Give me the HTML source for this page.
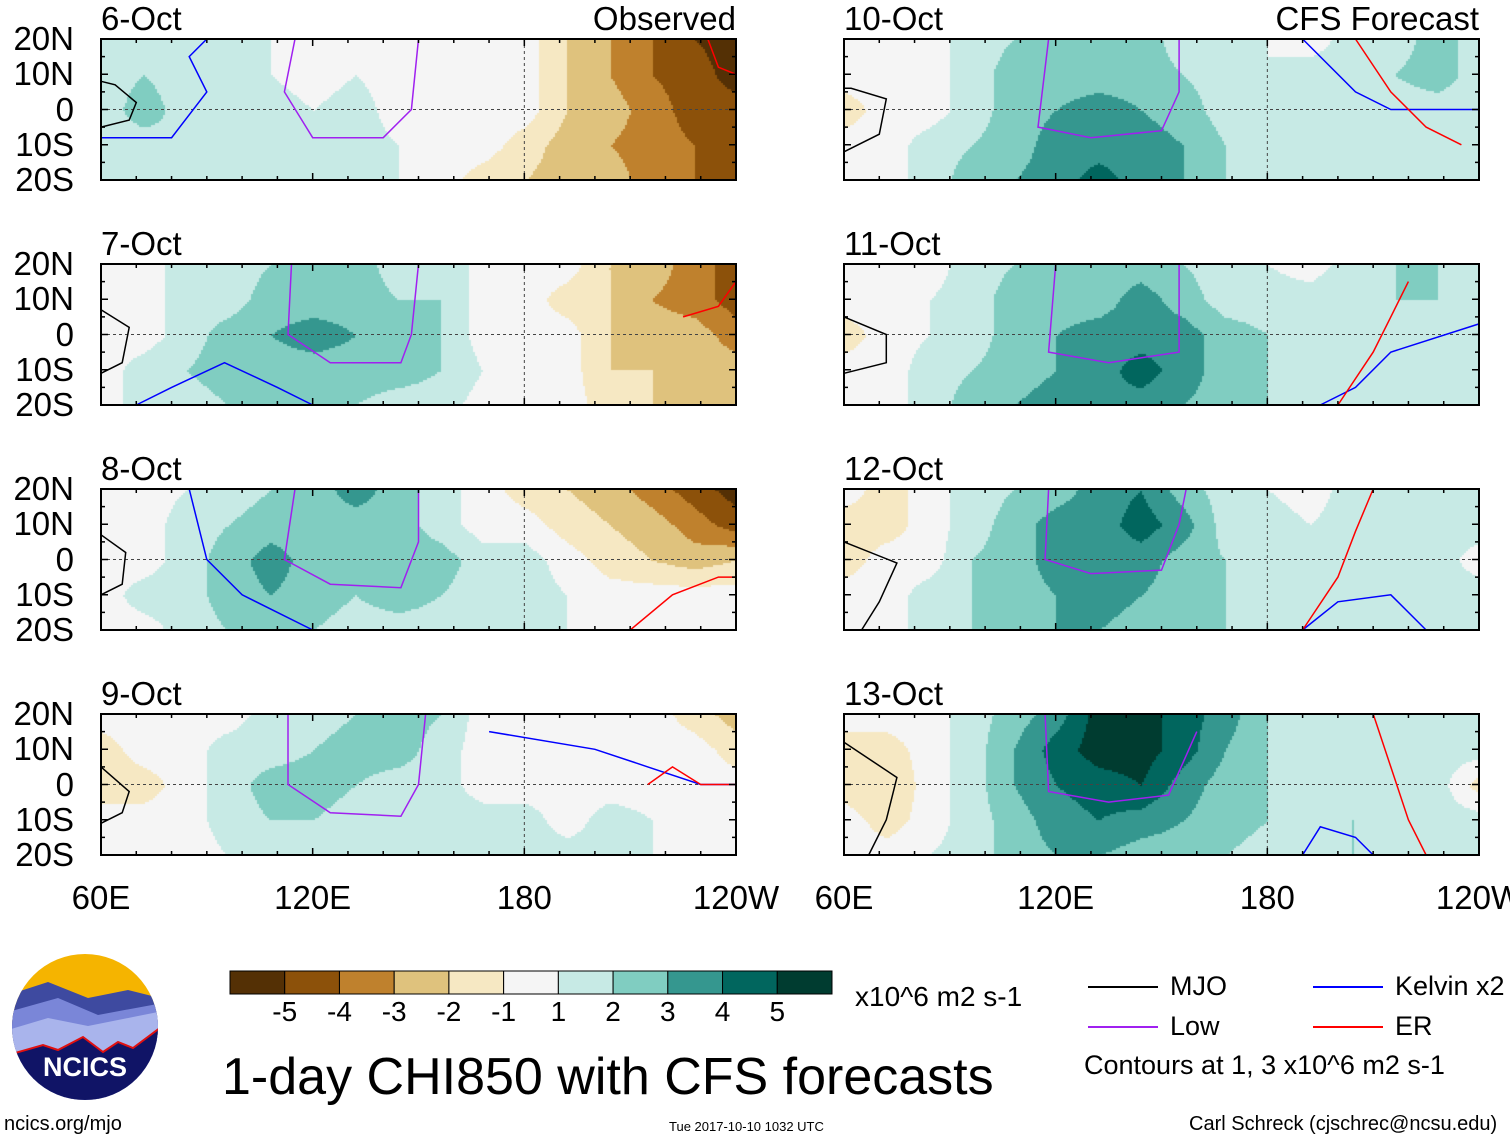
<!DOCTYPE html>
<html><head><meta charset="utf-8">
<style>
body{margin:0;background:#fff;width:1510px;height:1142px;overflow:hidden;position:relative;font-family:"Liberation Sans",sans-serif;}
.t{position:absolute;white-space:nowrap;color:#000;line-height:1;}
canvas{position:absolute;}
svg{position:absolute;left:0;top:0;}
</style></head>
<body>
<div id="root"></div>
<svg id="ov" width="1510" height="1142"></svg>
<script>
// ---- data ----
const panelDates = ["6-Oct","7-Oct","8-Oct","9-Oct","10-Oct","11-Oct","12-Oct","13-Oct"];
const latTicks = ["20N","10N","0","10S","20S"];
const lonTicks = ["60E","120E","180","120W"];
const cbarLabels = ["-5","-4","-3","-2","-1","1","2","3","4","5"];
const cbarColors = ["#543005","#8c510a","#bf812d","#dfc27d","#f6e8c3","#f5f5f5","#c7eae5","#80cdc1","#35978f","#01665e","#003c30"];
// CHI850 anomaly grids (rows 20N..20S, cols 60E..240E)
const f6 = [[1,1,1,1,.5,0,0,0,0,0,0,-1.5,-2.5,-3.5,-4.5,-5],[1,1.5,1,1,.5,0,.5,0,0,0,0,-1.5,-2.5,-3.5,-4,-5],[1,2,1,1.5,1,.5,1,0,0,0,0,-1.5,-2,-3,-4,-4],[1,1,1.5,1,1,1,1,.5,0,0,-1,-2,-2.5,-3,-3.5,-4],[1,1,1,1,1.5,1.5,1,.5,0,-1,-1.5,-2,-2,-3,-3.5,-4]];
const f7 = [[0,0,1,1,1.5,2,2,1,1.5,0,0,0,-1.5,-2,-3,-4],[0,0,1,1,2,2,2,1.5,1.5,0,0,-1,-1.5,-2.5,-3,-4],[0,0,1,2,2.5,3,2.5,2,1.5,0,0,0,-1.5,-2,-2,-3],[0,1,1.5,2,2,2,2,2,1.5,.5,0,0,-1.5,-1.5,-2,-2],[0,1,1,1.5,1.5,1.5,1.5,1,1,0,0,0,-1,-1.5,-1.5,-2]];
const f8 = [[0,0,.5,1,1.5,2,3,2,1,0,-1,-1.5,-2,-3,-4,-5],[0,0,1,1.5,2,2,2,2,1,0,0,-1,-1.5,-2,-3,-4],[0,0,1,2,3,2,2,2,2,1,1,0,-1,-1.5,-2,-1.5],[0,1,1,2,2.5,2,1.5,2,1.5,1,1,.5,0,0,0,0],[0,0,1,1.5,2,1.5,1,1,1,.5,.5,.5,0,0,0,0]];
const f9 = [[0,0,0,0,1,1,1.5,2,1.5,0,0,0,0,0,-1,-2],[-1,0,0,1,1,1.5,2,2,1,0,0,0,0,0,0,-1],[-1,-1,0,1,2,2,1.5,1,1,0,0,0,0,0,0,0],[0,0,0,1,1.5,1.5,1,1,1,1,1,0,1,.5,0,0],[0,0,0,.5,1,1,1,1,1,1,1,1,1,.5,0,0]];
const f10 = [[0,0,0,1,1.5,2,2,2,1,1,.5,0,1,1,2,1],[0,0,0,1,2,2,2,2,1.5,1,.5,1,1,1.5,2,1],[-1,0,0,1,2,2.5,3,2.5,2,1,1,1,1.5,1,1,1],[0,0,1,1.5,2,3,3,3,2.5,1.5,1,1,1,1,1,1],[0,0,1,2,2.5,3,4,3,2.5,1.5,1,1,1,1,1,1]];
const f11 = [[0,0,0,1,1.5,2,2,2,1.5,1,.5,0,1,1.5,1.5,1],[0,0,.5,1,2,2,2,3,2,1,1,1,1.5,1.5,1.5,1],[-1,0,.5,1,2,2.5,3,3,3,2,1.5,1,1,1,1,1],[0,0,1,1.5,2,2.5,3,4,3,2,1.5,1,1,1,1,1],[0,0,1,2,2.5,3,3.5,3,2.5,2,1.5,1,1,1,1,1]];
const f12 = [[0,-1,0,1,1.5,2,3,3.5,2,1,.5,0,1,1.5,1,1],[-1,-1,0,1,2,3,3,4,3,1,1,.5,1,1.5,1,1],[-1,0,0,1.5,2,3,3,3,2,1.5,1,1,1,1.5,1,0],[0,0,1,1.5,2,2.5,3,2.5,2,1.5,1,1,1,1,1,1],[0,0,1,1.5,2,2.5,2.5,2,1.5,1.5,1,1,1,1,1,1]];
const f13 = [[0,0,0,1,2,3,5,5,4,3,1.5,1,1,1.5,1,1],[-1,-1,0,1,2.5,4,5,5,4,2.5,1.5,1,1,1.5,1,1],[-1,-1.5,0,1,2.5,3.5,4,4.5,3,2,1.5,1,1,1,1,-1],[0,-1,0,1,2,3,3.5,3,2.5,2,1.5,1,1.5,1,1,1],[0,0,.5,1,2,2.5,2.5,2,2,1.5,1,1,1.5,1,1,1]];
const fields = [f6,f7,f8,f9,f10,f11,f12,f13];
// contour lines as [lon,lat] pairs
const mjoLines = [
 [[60,-5],[68,-3],[70,2],[64,7],[60,8]],[[60,7],[68,2],[66,-8],[60,-11]],[[60,7],[67,2],[66,-7],[60,-10]],[[60,5],[68,-2],[66,-8],[60,-11]],
 [[60,-12],[70,-7],[72,3],[62,6],[60,6]],[[60,5],[72,0],[72,-8],[60,-11]],[[60,5],[75,-1],[70,-12],[65,-20]],[[60,12],[75,2],[72,-10],[67,-20]]];
const lowLines = [
 [[115,20],[112,5],[120,-8],[140,-8],[148,0],[150,20]],[[114,20],[113,0],[125,-8],[145,-8],[148,0],[150,20]],[[115,20],[112,0],[125,-7],[145,-8],[150,5],[150,20]],[[113,20],[113,0],[125,-8],[145,-9],[150,0],[152,20]],
 [[118,20],[115,-5],[130,-8],[150,-6],[155,5],[155,20]],[[120,20],[118,-5],[135,-8],[155,-5],[155,20]],[[118,20],[117,0],[130,-4],[150,-3],[155,10],[157,20]],[[117,20],[118,-2],[135,-5],[152,-3],[160,15]]];
const kelvinLines = [
 [[60,-8],[80,-8],[90,5],[85,15],[90,20]],[[70,-20],[80,-15],[95,-8],[110,-15],[120,-20]],[[85,20],[90,0],[100,-10],[120,-20]],[[170,15],[200,10],[215,5],[230,0],[240,0]],
 [[190,20],[205,5],[215,0],[240,0]],[[195,-20],[205,-15],[215,-5],[240,3]],[[190,-20],[200,-12],[215,-10],[225,-20]],[[190,-20],[195,-12],[205,-15],[210,-20]]];
const erLines = [[[232,20],[235,12],[240,10]],[[225,5],[235,8],[240,15]],[[210,-20],[222,-10],[235,-5],[240,-5]],[[215,0],[222,5],[230,0],[240,0]],
 [[205,20],[215,5],[225,-5],[235,-10]],[[200,-20],[210,-5],[215,5],[220,15]],[[190,-20],[200,-5],[205,8],[210,20]],[[210,20],[215,5],[220,-10],[225,-20]]];

// ---- geometry ----
const colX=[101,844], rowY=[39,264,489,714], PW=635, PH=141;
function xs(lon){return (lon-60)/180*PW;}
function ys(lat){return (20-lat)/40*PH;}
const root=document.getElementById('root'), ov=document.getElementById('ov');
const NS="http://www.w3.org/2000/svg";
function txt(s,x,y,size,anchor,name){
 const d=document.createElement('div');d.className='t';d.textContent=s;d.style.fontSize=size+'px';
 d.style.top=y+'px';
 if(anchor==='r'){d.style.right=(1510-x)+'px';}else if(anchor==='c'){d.style.left=x+'px';d.style.transform='translateX(-50%)';}else d.style.left=x+'px';
 
 
 root.appendChild(d);return d;}
function colorOf(v){let i=Math.round(v)+5;i=Math.max(0,Math.min(10,i));return cbarColors[i];}
function sample(g,fx,fy){
 const x0=Math.min(14,Math.floor(fx)),y0=Math.min(3,Math.floor(fy));const tx=fx-x0,ty=fy-y0;
 return (g[y0][x0]*(1-tx)+g[y0][x0+1]*tx)*(1-ty)+(g[y0+1][x0]*(1-tx)+g[y0+1][x0+1]*tx)*ty;}
function line(pts,ox,oy,col,name){
 const p=document.createElementNS(NS,'polyline');
 p.setAttribute('points',pts.map(q=>(ox+xs(q[0])).toFixed(1)+','+(oy+ys(q[1])).toFixed(1)).join(' '));
 p.setAttribute('fill','none');p.setAttribute('stroke',col);p.setAttribute('stroke-width','1.5');
 
 
 ov.appendChild(p);}
for(let k=0;k<8;k++){
 const ox=colX[k<4?0:1], oy=rowY[k%4], g=fields[k];
 const c=document.createElement('canvas');c.width=PW;c.height=PH;c.style.left=ox+'px';c.style.top=oy+'px';
 
 
 const ctx=c.getContext('2d');
 for(let py=0;py<PH;py+=2)for(let px=0;px<PW;px+=2){
  ctx.fillStyle=colorOf(sample(g,px/PW*15,py/PH*4));ctx.fillRect(px,py,2,2);}
 root.appendChild(c);
 const eq=document.createElementNS(NS,'line');eq.setAttribute('x1',ox);eq.setAttribute('x2',ox+PW);eq.setAttribute('y1',oy+ys(0));eq.setAttribute('y2',oy+ys(0));
 eq.setAttribute('stroke','#444');eq.setAttribute('stroke-dasharray','3,3');ov.appendChild(eq);
 const dl=document.createElementNS(NS,'line');dl.setAttribute('x1',ox+xs(180));dl.setAttribute('x2',ox+xs(180));dl.setAttribute('y1',oy);dl.setAttribute('y2',oy+PH);
 dl.setAttribute('stroke','#444');dl.setAttribute('stroke-dasharray','3,3');ov.appendChild(dl);
 line(mjoLines[k],ox,oy,'#000','mjo-contour');
 line(lowLines[k],ox,oy,'#a020f0','low-contour');
 line(kelvinLines[k],ox,oy,'#0000ff','kelvin-contour');
 line(erLines[k],ox,oy,'#ff0000','er-contour');
 const r=document.createElementNS(NS,'rect');r.setAttribute('x',ox);r.setAttribute('y',oy);r.setAttribute('width',PW);r.setAttribute('height',PH);
 r.setAttribute('fill','none');r.setAttribute('stroke','#000');r.setAttribute('stroke-width','2');ov.appendChild(r);
 let d='';for(let lon=60;lon<=240;lon+=10){const x=ox+xs(lon);const L=lon%60===0?7:4;d+=`M${x},${oy}v${L}M${x},${oy+PH}v${-L}`;}
 for(let lat=-20;lat<=20;lat+=5){const y=oy+ys(lat);const L=lat%10===0?7:4;d+=`M${ox},${y}h${L}M${ox+PW},${y}h${-L}`;}
 const tk=document.createElementNS(NS,'path');tk.setAttribute('d',d);tk.setAttribute('stroke','#000');tk.setAttribute('stroke-width','1.5');ov.appendChild(tk);
 txt(panelDates[k],ox,oy-37,33,'l','panel-date-title');
 if(k<4) latTicks.forEach((s,i)=>txt(s,74,oy+i*PH/4-17,33,'r','lat-tick-label'));
}
txt('Observed',736,2,33,'r','observed-label');
txt('CFS Forecast',1479,2,33,'r','cfs-forecast-label');
lonTicks.forEach((s,i)=>{txt(s,101+i*PW/3,881,33,'c','lon-tick-label');txt(s,844+i*PW/3,881,33,'c','lon-tick-label');});
const cbw=602/11;
cbarColors.forEach((c,i)=>{const r=document.createElementNS(NS,'rect');r.setAttribute('x',230+i*cbw);r.setAttribute('y',971);r.setAttribute('width',cbw);r.setAttribute('height',23);
 r.setAttribute('fill',c);r.setAttribute('stroke','#000');r.setAttribute('stroke-width','1');ov.appendChild(r);});
cbarLabels.forEach((s,i)=>txt(s,230+(i+1)*cbw,998,28,'c','colorbar-label'));
txt('x10^6 m2 s-1',855,983,28,'l','colorbar-units');
txt('1-day CHI850 with CFS forecasts',222,1051,52,'l','chart-title');
[['MJO','#000',1088,987],['Low','#a020f0',1088,1027],['Kelvin x2','#0000ff',1313,987],['ER','#ff0000',1313,1027]].forEach(a=>{
 const l=document.createElementNS(NS,'line');l.setAttribute('x1',a[2]);l.setAttribute('x2',a[2]+70);l.setAttribute('y1',a[3]);l.setAttribute('y2',a[3]);
 l.setAttribute('stroke',a[1]);l.setAttribute('stroke-width','2');ov.appendChild(l);
 txt(a[0],a[2]+82,a[3]-14,27,'l','legend-entry');});
txt('Contours at 1, 3 x10^6 m2 s-1',1084,1052,27,'l','contour-note');
txt('ncics.org/mjo',4,1114,20,'l','site-url');
txt('Tue 2017-10-10 1032 UTC',669,1120,13,'l','timestamp');
txt('Carl Schreck (cjschrec@ncsu.edu)',1189,1114,20,'l','author-credit');
</script>
<svg width="160" height="160" style="left:8px;top:950px">
<defs><clipPath id="cc"><circle cx="77" cy="77" r="73"/></clipPath></defs>
<g clip-path="url(#cc)">
<rect width="160" height="160" fill="#f5b400"/>
<path d="M0,45 L40,32 L80,48 L120,40 L160,50 V160 H0Z" fill="#3e4aa0"/>
<path d="M0,62 L50,48 L90,65 L160,52 V160 H0Z" fill="#7a86d8"/>
<path d="M0,80 L40,68 L80,76 L160,60 V160 H0Z" fill="#a9b4ec"/>
<path d="M0,105 L35,95 L50,100 L75,87 L95,102 L110,92 L125,98 L160,72 V160 H0Z" fill="#101466" stroke="#e01010" stroke-width="2"/>
</g>
<text x="77" y="126" text-anchor="middle" font-family="Liberation Sans" font-weight="bold" font-size="27" fill="#fff">NCICS</text>
</svg>
</body></html>
